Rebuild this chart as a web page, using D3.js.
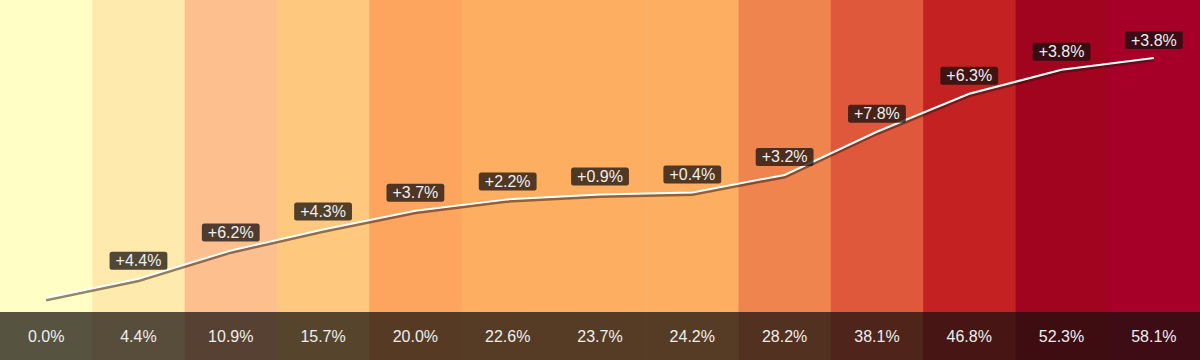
<!DOCTYPE html>
<html><head><meta charset="utf-8">
<script src="https://cdn.jsdelivr.net/npm/d3@7"></script>
<style>html,body{margin:0;padding:0;background:#fff;}svg{display:block;}</style>
</head><body><div id="chart"></div>
<script>
const steps = ["s0","s1","s2","s3","s4","s5","s6","s7","s8","s9","s10","s11","s12"];
const cumulative = [0.0, 4.4, 10.9, 15.7, 20.0, 22.6, 23.7, 24.2, 28.2, 38.1, 46.8, 52.3, 58.1];
const growth = [null, 4.4, 6.2, 4.3, 3.7, 2.2, 0.9, 0.4, 3.2, 7.8, 6.3, 3.8, 3.8];
const bandColors = ["#ffffc5","#feeaad","#febf8f","#fec97f","#fda45f","#fdae61","#fdae61","#fdae61","#f0844f","#e0583b","#c42122","#a0041f","#a60028"];
const yDomainMax = 55;

const W = 1200, H = 360, footTop = 312;
const FONT = "'Liberation Sans', Arial, Helvetica, sans-serif";
const svg = d3.select("#chart").append("svg").attr("width", W).attr("height", H);

const x = d3.scaleBand().domain(steps).range([0, W]).padding(0);
const y = d3.scaleLinear().domain([0, yDomainMax]).range([298, 58]).clamp(true);

svg.append("g").selectAll("rect").data(steps).join("rect")
  .attr("x", d => x(d)).attr("y", 0)
  .attr("width", x.bandwidth() + 0.5).attr("height", H)
  .attr("fill", (d, i) => bandColors[i]);

svg.append("rect").attr("x", 0).attr("y", footTop).attr("width", W).attr("height", H - footTop)
  .attr("fill", "rgba(22,16,14,0.72)");

svg.append("g").selectAll("text").data(steps).join("text")
  .attr("x", d => x(d) + x.bandwidth() / 2)
  .attr("y", (footTop + H) / 2 + 6)
  .attr("text-anchor", "middle")
  .attr("font-family", FONT)
  .attr("font-size", 16)
  .attr("fill", "#eeeeee")
  .text((d, i) => cumulative[i].toFixed(1) + "%");

const pts = steps.map((d, i) => [x(d) + x.bandwidth() / 2, y(cumulative[i])]);
const line = d3.line();

svg.append("path").attr("d", line(pts.map(p => [p[0], p[1] + 2])))
  .attr("fill", "none").attr("stroke", "rgba(40,20,10,0.5)").attr("stroke-width", 3);
svg.append("path").attr("d", line(pts))
  .attr("fill", "none").attr("stroke", "#ffffff").attr("stroke-width", 2);

const lg = svg.append("g").selectAll("g").data(steps.slice(1)).join("g")
  .attr("transform", (d, j) => {
    const i = j + 1;
    return `translate(${pts[i][0]},${pts[i][1] - 9})`;
  });
lg.append("text")
  .attr("x", 0).attr("y", -3.5)
  .attr("text-anchor", "middle")
  .attr("font-family", FONT)
  .attr("font-size", 16)
  .attr("fill", "#eeeeee")
  .text((d, j) => "+" + growth[j + 1].toFixed(1) + "%")
  .each(function() {
    const bb = this.getBBox();
    d3.select(this.parentNode).insert("rect", "text")
      .attr("x", -bb.width / 2 - 6).attr("y", -18)
      .attr("width", bb.width + 12).attr("height", 18)
      .attr("rx", 2.5)
      .attr("fill", "rgba(22,16,14,0.75)");
  });
</script></body></html>
